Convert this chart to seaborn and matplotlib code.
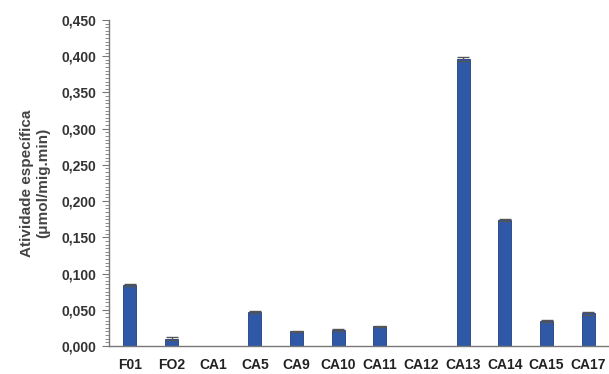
import matplotlib
matplotlib.use("Agg")
import matplotlib.pyplot as plt
import seaborn as sns
import pandas as pd
from matplotlib.ticker import MultipleLocator, FuncFormatter

categories = ["F01", "FO2", "CA1", "CA5", "CA9", "CA10", "CA11", "CA12", "CA13", "CA14", "CA15", "CA17"]
values = [0.084, 0.010, 0.0, 0.047, 0.020, 0.022, 0.027, 0.0, 0.396, 0.174, 0.034, 0.045]
errors = [0.001, 0.002, 0.0, 0.001, 0.0005, 0.002, 0.001, 0.0, 0.003, 0.001, 0.0015, 0.002]

sns.set_style("white")
plt.rcParams['font.family'] = ['Liberation Sans', 'DejaVu Sans']

df = pd.DataFrame({"cat": categories, "val": values, "err": errors})

fig = plt.figure(figsize=(6.09, 3.74), dpi=100)
ax = fig.add_axes([0.179, 0.075, 0.821, 0.8715])

sns.barplot(data=df, x="cat", y="val", color="#2F58A6", width=0.31,
            edgecolor="#1F3F80", linewidth=0.6, saturation=1, errorbar=None, ax=ax)
nz = df[df["val"] > 0]
ax.errorbar(nz["cat"], nz["val"], yerr=nz["err"], fmt="none", ecolor="#555555",
            elinewidth=1.0, capsize=4, capthick=1.0)

ax.set_ylim(0, 0.45)
ax.set_xlim(-0.5, len(categories) - 0.5)
ax.yaxis.set_major_locator(MultipleLocator(0.05))
ax.yaxis.set_minor_locator(MultipleLocator(0.005))
ax.yaxis.set_major_formatter(FuncFormatter(lambda v, p: f"{v:.3f}".replace(".", ",")))

for s in ["top", "right"]:
    ax.spines[s].set_visible(False)
for s in ["left", "bottom"]:
    ax.spines[s].set_color("#777777")
    ax.spines[s].set_linewidth(1.0)

ax.tick_params(axis="y", which="major", direction="out", length=5, width=0.8, color="#777777",
               left=True, labelsize=10, labelcolor="#333333", pad=4)
ax.tick_params(axis="y", which="minor", direction="out", length=3, width=0.6, color="#777777", left=True)
ax.tick_params(axis="x", which="both", bottom=False, labelsize=10, labelcolor="#222222", pad=5)
for lbl in ax.get_yticklabels() + ax.get_xticklabels():
    lbl.set_fontweight("bold")

ax.set_xlabel("")
ax.set_ylabel("Atividade específica\n(μmol/mig.min)", fontsize=11, fontweight="bold",
              color="#444444", labelpad=8, linespacing=1.2)

fig.savefig("out.png", dpi=100)
